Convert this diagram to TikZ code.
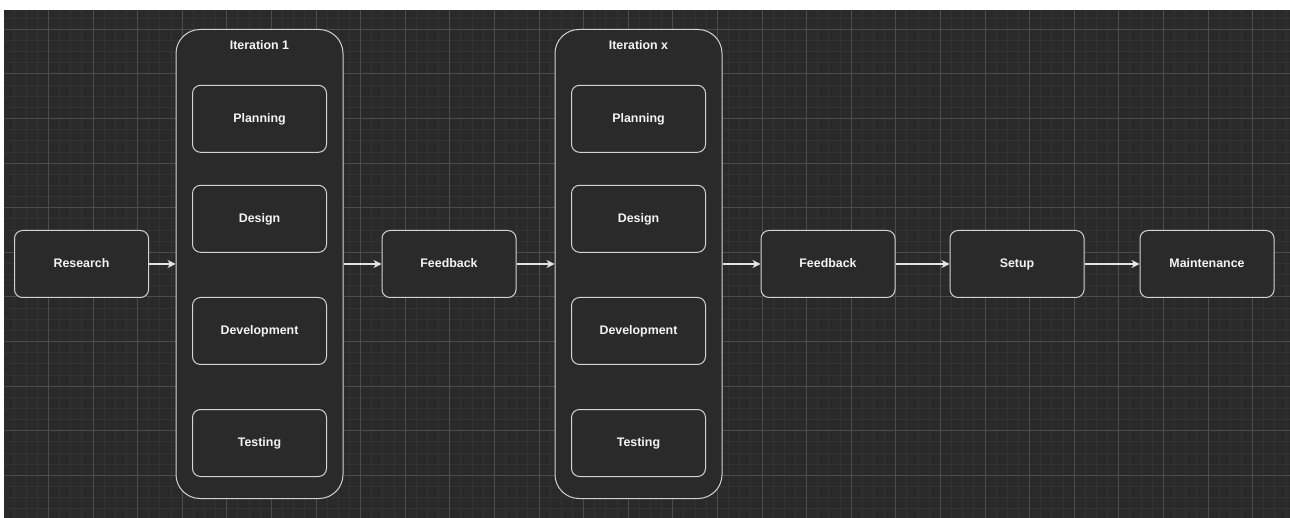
\documentclass[tikz,border=0pt]{standalone}
\usepackage{fontspec}
\setmainfont{Liberation Sans}
\usetikzlibrary{arrows.meta}
\definecolor{color_board_bg}{HTML}{2A2A2A}
\definecolor{color_board_grid}{HTML}{333333}
\definecolor{color_board_grid_major}{HTML}{4C4C4C}
\definecolor{color_box_line}{HTML}{D2D2D2}
\definecolor{color_box_text}{HTML}{F4F4F4}
\definecolor{color_flow}{HTML}{E4E4E4}
\def\gridminor{11.15}
\def\gridmajor{44.6}
\def\boxwidth{134pt}
\def\boxheight{67pt}
\def\boxfont{\fontsize{12.4}{14}\selectfont\bfseries}

\begin{document}
\begin{tikzpicture}[x=1pt,y=-1pt,
    stagebox/.style={draw=color_box_line,fill=color_board_bg,line width=1pt,rounded corners=8pt,
      minimum width=\boxwidth,minimum height=\boxheight,inner sep=0pt,
      text=color_box_text,font=\boxfont,text height=9pt,text depth=2.5pt},
    iterbox/.style={draw=color_box_line,fill=color_board_bg,line width=1pt,rounded corners=24pt,
      minimum width=167pt,minimum height=469pt,inner sep=0pt},
    itertitle/.style={text=color_box_text,font=\boxfont,inner sep=0pt},
    flow/.style={draw=color_flow,line width=1.2pt,-{Stealth[length=8pt,width=8pt,inset=2.5pt]}}]
        \useasboundingbox (0,0) rectangle (1290,518);
        \fill[white] (0,0) rectangle (1290,518);
        \fill[color_board_bg] (4,10) rectangle (1290,518);
        % the grid
        \begin{scope}
            \clip (4,10) rectangle (1290,518);
            \foreach \i in {0,...,115}
                \draw[color_board_grid,line width=0.8pt] (3.7+\i*\gridminor,10) -- ++(0,508);
            \foreach \i in {0,...,46}
                \draw[color_board_grid,line width=0.8pt] (4,7.0+\i*\gridminor) -- ++(1286,0);
            \foreach \i in {0,...,29}
                \draw[color_board_grid_major,line width=0.8pt] (3.7+\i*\gridmajor,10) -- ++(0,508);
            \foreach \i in {0,...,11}
                \draw[color_board_grid_major,line width=0.8pt] (4,29.3+\i*\gridmajor) -- ++(1286,0);
        \end{scope}
        % the stages
        \node[stagebox] (research) at (81.5,264) {Research};
        \foreach \cx/\n in {259.5/1, 638.5/x} {
            \node[iterbox] (iter\n) at (\cx,264) {};
            \node[itertitle] (iter\n title) at (\cx,45) {Iteration \n};
            \foreach \cy/\stage in {118.8/Planning, 218.8/Design, 331/Development, 443/Testing}
                \node[stagebox] (\stage\n) at (\cx,\cy) {\stage};
        }
        \node[stagebox] (feedback1) at (449,264) {Feedback};
        \node[stagebox] (feedback2) at (828,264) {Feedback};
        \node[stagebox] (setup) at (1017,264) {Setup};
        \node[stagebox] (maintenance) at (1207,264) {Maintenance};
        % the flow
        \draw[flow] (research) -- (iter1);
        \draw[flow] (iter1) -- (feedback1);
        \draw[flow] (feedback1) -- (iterx);
        \draw[flow] (iterx) -- (feedback2);
        \draw[flow] (feedback2) -- (setup);
        \draw[flow] (setup) -- (maintenance);
    \end{tikzpicture}
\end{document}
